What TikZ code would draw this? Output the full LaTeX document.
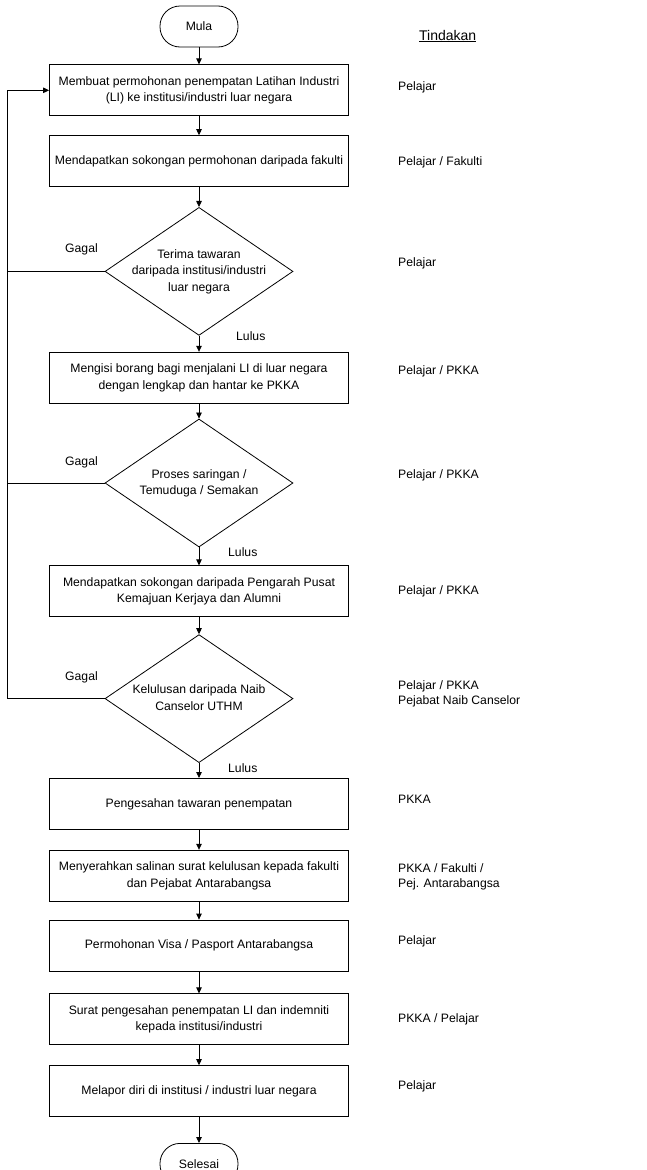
\documentclass[tikz,border=0pt]{standalone}
\usepackage{fontspec}
\setmainfont{Liberation Sans}
\usetikzlibrary{arrows.meta,calc,positioning,shapes.geometric}
\definecolor{flink}{HTML}{000000}
\newcommand{\flfont}{\fontsize{12.2}{16.5}\selectfont}
\newcommand{\dtext}[1]{\makebox[0pt]{\begin{tabular}{@{}c@{}}#1\end{tabular}}}
\tikzset{
  fl text/.style={font=\flfont, text=flink},
  fl step/.style={draw=flink, line width=0.8pt, fill=white,
    minimum width=299pt, minimum height=51pt, align=center, font=\flfont},
  fl decision/.style={diamond, draw=flink, line width=0.8pt, fill=white,
    minimum width=188pt, minimum height=128pt, inner sep=0pt, font=\flfont},
  fl terminal/.style={draw=flink, line width=0.8pt, rounded corners=20pt, fill=white,
    minimum width=78pt, minimum height=41pt, font=\flfont},
  fl arrow/.style={-{Triangle[length=6pt,width=5.5pt]}, line width=0.8pt, draw=flink},
  fl line/.style={line width=0.8pt, draw=flink},
  fl note/.style={font=\flfont, text=flink, inner sep=0pt},
  fl act/.style={font=\fontsize{12.2}{14.5}\selectfont, text=flink, align=left,
    anchor=west, inner sep=0pt}
}

\begin{document}
\begin{tikzpicture}[fl text]
  \useasboundingbox (0,0) rectangle (646pt,-1170pt);
  \node[fl terminal] (start) at (199pt,-26.5pt) {Mula};
  \node[fl step, below=17pt of start] (s1) {Membuat permohonan penempatan Latihan Industri\\(LI) ke institusi/industri luar negara};
  \node[fl step, below=19pt of s1] (s2) {Mendapatkan sokongan permohonan daripada fakulti};
  \node[fl decision, below=20pt of s2] (q1) {\dtext{Terima tawaran\\daripada institusi/industri\\luar negara}};
  \node[fl step, below=16pt of q1] (s3) {Mengisi borang bagi menjalani LI di luar negara\\dengan lengkap dan hantar ke PKKA};
  \node[fl decision, below=15pt of s3] (q2) {\dtext{Proses saringan /\\Temuduga / Semakan}};
  \node[fl step, below=18pt of q2] (s4) {Mendapatkan sokongan daripada Pengarah Pusat\\Kemajuan Kerjaya dan Alumni};
  \node[fl decision, below=17pt of s4] (q3) {\dtext{Kelulusan daripada Naib\\Canselor UTHM}};
  \node[fl step, below=15pt of q3] (s5) {Pengesahan tawaran penempatan};
  \node[fl step, below=20pt of s5] (s6) {Menyerahkan salinan surat kelulusan kepada fakulti\\dan Pejabat Antarabangsa};
  \node[fl step, below=18pt of s6] (s7) {Permohonan Visa / Pasport Antarabangsa};
  \node[fl step, below=22pt of s7] (s8) {Surat pengesahan penempatan LI dan indemniti\\kepada institusi/industri};
  \node[fl step, below=20pt of s8] (s9) {Melapor diri di institusi / industri luar negara};
  \node[fl terminal, below=26pt of s9] (stop) {Selesai};

  \draw[fl arrow] (start)--(s1);
  \draw[fl arrow] (s1)--(s2);
  \draw[fl arrow] (s2)--(q1);
  \draw[fl arrow] (q1)--(s3);
  \draw[fl arrow] (s3)--(q2);
  \draw[fl arrow] (q2)--(s4);
  \draw[fl arrow] (s4)--(q3);
  \draw[fl arrow] (q3)--(s5);
  \draw[fl arrow] (s5)--(s6);
  \draw[fl arrow] (s6)--(s7);
  \draw[fl arrow] (s7)--(s8);
  \draw[fl arrow] (s8)--(s9);
  \draw[fl arrow] (s9)--(stop);

  % failed checks go back to the first step
  \coordinate (back) at ($(s1.west)+(-42pt,0)$);
  \draw[fl arrow] (q3.west) -| (back) -- (s1.west);
  \draw[fl line] (q1.west) -- (q1.west -| back);
  \draw[fl line] (q2.west) -- (q2.west -| back);

  \coordinate (gcol) at (65pt,0);
  \node[fl note, anchor=west, yshift=22pt] (g1) at (q1.west -| gcol) {Gagal};
  \node[fl note, anchor=west, yshift=21pt] (g2) at (q2.west -| gcol) {Gagal};
  \node[fl note, anchor=west, yshift=21pt] (g3) at (q3.west -| gcol) {Gagal};
  \node[fl note, anchor=west] (p1) at ($(q1.south)+(37pt,0)$) {Lulus};
  \node[fl note, anchor=west] (p2) at ($(q2.south)+(29pt,-5pt)$) {Lulus};
  \node[fl note, anchor=west] (p3) at ($(q3.south)+(29pt,-5pt)$) {Lulus};

  % who does each step
  \coordinate (col) at (398pt,0);
  \node[fl note, anchor=base west] (head) at (419pt,-40pt) {\fontsize{14}{16}\selectfont\underline{Tindakan}};
  \node[fl act, yshift=2.5pt] (a1) at (s1 -| col) {Pelajar};
  \node[fl act, yshift=-1.5pt] (a2) at (s2 -| col) {Pelajar / Fakulti};
  \node[fl act, yshift=8pt] (a3) at (q1 -| col) {Pelajar};
  \node[fl act, yshift=6.5pt] (a4) at (s3 -| col) {Pelajar / PKKA};
  \node[fl act, yshift=8pt] (a5) at (q2 -| col) {Pelajar / PKKA};
  \node[fl act] (a6) at (s4 -| col) {Pelajar / PKKA};
  \node[fl act, yshift=5pt] (a7) at (q3 -| col) {Pelajar / PKKA\\Pejabat Naib Canselor};
  \node[fl act, yshift=4.5pt] (a8) at (s5 -| col) {PKKA};
  \node[fl act, yshift=-1pt] (a9) at (s6 -| col) {PKKA / Fakulti /\\Pej. Antarabangsa};
  \node[fl act, yshift=4.5pt] (a10) at (s7 -| col) {Pelajar};
  \node[fl act] (a11) at (s8 -| col) {PKKA / Pelajar};
  \node[fl act, yshift=4.5pt] (a12) at (s9 -| col) {Pelajar};
\end{tikzpicture}
\end{document}
